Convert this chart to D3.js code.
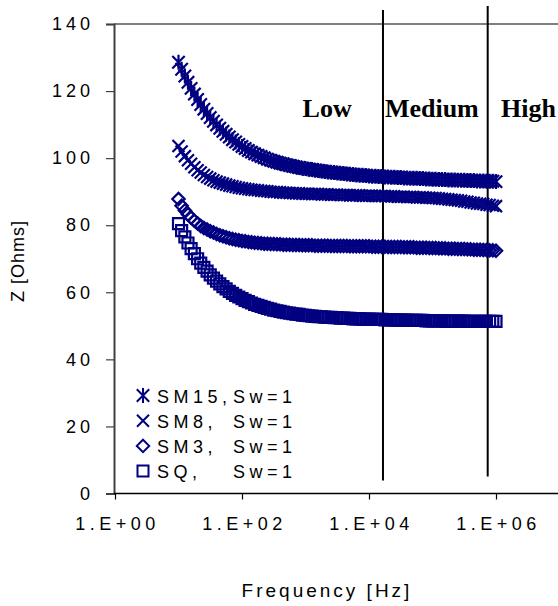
<!DOCTYPE html>
<html>
<head>
<meta charset="utf-8">
<script src="https://cdn.jsdelivr.net/npm/d3@7"></script>
<style>
body { margin: 0; background: #fff; }
svg { display: block; }
</style>
</head>
<body>
<div id="chart"></div>
<script>
// frequency points (Hz), 20 per decade
const freq = [
  10, 11.2, 12.6, 14.1, 15.8, 17.8, 20, 22.4, 25.1, 28.2, 31.6, 35.5, 39.8, 44.7, 50.1, 56.2, 63.1, 70.8, 79.4, 89.1,
  100, 112, 126, 141, 158, 178, 200, 224, 251, 282, 316, 355, 398, 447, 501, 562, 631, 708, 794, 891,
  1000, 1120, 1260, 1410, 1580, 1780, 2000, 2240, 2510, 2820, 3160, 3550, 3980, 4470, 5010, 5620, 6310, 7080, 7940, 8910,
  10000, 11200, 12600, 14100, 15800, 17800, 20000, 22400, 25100, 28200, 31600, 35500, 39800, 44700, 50100, 56200, 63100, 70800, 79400, 89100,
  100000, 112000, 126000, 141000, 158000, 178000, 200000, 224000, 251000, 282000, 316000, 355000, 398000, 447000, 501000, 562000, 631000, 708000, 794000, 891000,
  1000000
];

const sm15 = [
  128.6, 126.5, 124.5, 122.6, 120.8, 119.1, 117.5, 116.0, 114.6, 113.3, 112.1, 111.0, 109.9, 108.9, 108.0, 107.1, 106.3, 105.5, 104.8, 104.1,
  103.5, 102.9, 102.3, 101.8, 101.3, 100.9, 100.5, 100.1, 99.7, 99.4, 99.1, 98.8, 98.5, 98.3, 98.0, 97.8, 97.6, 97.4, 97.2, 97.0,
  96.9, 96.7, 96.6, 96.4, 96.3, 96.2, 96.0, 95.9, 95.8, 95.7, 95.6, 95.5, 95.4, 95.3, 95.2, 95.1, 95.0, 94.9, 94.9, 94.8,
  94.7, 94.6, 94.6, 94.5, 94.5, 94.4, 94.4, 94.3, 94.3, 94.2, 94.2, 94.1, 94.1, 94.0, 94.0, 94.0, 93.9, 93.9, 93.8, 93.8,
  93.7, 93.7, 93.6, 93.6, 93.6, 93.5, 93.5, 93.5, 93.4, 93.4, 93.4, 93.3, 93.3, 93.3, 93.2, 93.2, 93.2, 93.1, 93.1, 93.1,
  93.0
];

const sm8 = [
  103.6, 102.0, 100.6, 99.4, 98.3, 97.3, 96.4, 95.7, 95.0, 94.4, 93.9, 93.4, 93.0, 92.7, 92.4, 92.1, 91.8, 91.6, 91.4, 91.2,
  91.0, 90.9, 90.7, 90.6, 90.5, 90.4, 90.3, 90.2, 90.1, 90.0, 89.9, 89.9, 89.8, 89.7, 89.7, 89.6, 89.6, 89.5, 89.5, 89.4,
  89.4, 89.4, 89.3, 89.3, 89.3, 89.2, 89.2, 89.2, 89.1, 89.1, 89.1, 89.0, 89.0, 89.0, 88.9, 88.9, 88.9, 88.9, 88.8, 88.8,
  88.8, 88.8, 88.7, 88.7, 88.7, 88.7, 88.6, 88.6, 88.6, 88.5, 88.5, 88.5, 88.4, 88.4, 88.4, 88.3, 88.3, 88.3, 88.2, 88.2,
  88.1, 88.1, 88.0, 87.9, 87.8, 87.7, 87.6, 87.5, 87.4, 87.3, 87.1, 87.0, 86.8, 86.7, 86.5, 86.4, 86.3, 86.1, 86.0, 85.8,
  85.7
];

const sm3 = [
  87.8, 85.8, 84.4, 83.2, 82.2, 81.3, 80.5, 79.8, 79.2, 78.7, 78.2, 77.8, 77.4, 77.0, 76.7, 76.4, 76.1, 75.9, 75.7, 75.5,
  75.3, 75.2, 75.0, 74.9, 74.8, 74.7, 74.6, 74.5, 74.5, 74.4, 74.4, 74.3, 74.3, 74.2, 74.2, 74.2, 74.1, 74.1, 74.1, 74.0,
  74.0, 74.0, 74.0, 73.9, 73.9, 73.9, 73.9, 73.9, 73.8, 73.8, 73.8, 73.8, 73.8, 73.8, 73.7, 73.7, 73.7, 73.7, 73.7, 73.7,
  73.7, 73.6, 73.6, 73.6, 73.6, 73.6, 73.5, 73.5, 73.5, 73.5, 73.5, 73.4, 73.4, 73.4, 73.4, 73.3, 73.3, 73.3, 73.3, 73.2,
  73.2, 73.2, 73.1, 73.1, 73.1, 73.0, 73.0, 73.0, 72.9, 72.9, 72.9, 72.8, 72.8, 72.7, 72.7, 72.7, 72.6, 72.6, 72.5, 72.5,
  72.4
];

const sq = [
  80.5, 78.4, 76.5, 74.7, 73.0, 71.5, 70.0, 68.7, 67.4, 66.3, 65.2, 64.2, 63.3, 62.5, 61.7, 61.0, 60.3, 59.7, 59.1, 58.6,
  58.1, 57.6, 57.2, 56.8, 56.4, 56.1, 55.8, 55.5, 55.2, 55.0, 54.7, 54.5, 54.3, 54.1, 53.9, 53.8, 53.6, 53.5, 53.4, 53.2,
  53.1, 53.0, 52.9, 52.8, 52.7, 52.7, 52.6, 52.5, 52.5, 52.4, 52.4, 52.3, 52.3, 52.2, 52.2, 52.1, 52.1, 52.1, 52.0, 52.0,
  52.0, 51.9, 51.9, 51.9, 51.9, 51.8, 51.8, 51.8, 51.8, 51.7, 51.7, 51.7, 51.7, 51.6, 51.6, 51.6, 51.6, 51.6, 51.5, 51.5,
  51.5, 51.5, 51.5, 51.5, 51.4, 51.4, 51.4, 51.4, 51.4, 51.4, 51.4, 51.3, 51.3, 51.3, 51.3, 51.3, 51.3, 51.3, 51.3, 51.3,
  51.3
];

const seriesNames = ["SM15,", "SM8,", "SM3,", "SQ,"];
const swLabel = "Sw=1";
const yTicks = [0, 20, 40, 60, 80, 100, 120, 140];
const xTicks = [1, 1e2, 1e4, 1e6];
const xTickLabels = ["1.E+00", "1.E+02", "1.E+04", "1.E+06"];

// region boundaries and labels
const bandFreq = [1.66e4, 7.4e5];
const bandTop = [144.2, 145.4];
const bandBottom = [3.9, 5.1];
const regionNames = ["Low", "Medium", "High"];
const regionFreq = [900, 1.78e4, 1.2e6];
const regionZ = 112.3;

const svgWidth = 558;
const svgHeight = 606;
const margins = {top: 24, right: 0, bottom: 112.5, left: 114};
const navy = "#000080";

const svg = d3.select("#chart")
  .append("svg")
  .attr("width", svgWidth)
  .attr("height", svgHeight)
  .attr("viewBox", [0, 0, svgWidth, svgHeight]);

const xScale = d3.scaleLog()
  .domain([1, 1e7])
  .range([115, 559.5]);

const yScale = d3.scaleLinear()
  .domain([0, 140])
  .range([svgHeight - margins.bottom, margins.top]);

// marker shapes
const asterisk = {draw(ctx) {
  ctx.moveTo(-6.2, -6.2); ctx.lineTo(6.2, 6.2);
  ctx.moveTo(-6.2, 6.2); ctx.lineTo(6.2, -6.2);
  ctx.moveTo(0, -7.5); ctx.lineTo(0, 7.5);
}};
const times = {draw(ctx) {
  ctx.moveTo(-6, -6); ctx.lineTo(6, 6);
  ctx.moveTo(-6, 6); ctx.lineTo(6, -6);
}};
const diamond = {draw(ctx) {
  ctx.moveTo(0, -6.2); ctx.lineTo(6.2, 0); ctx.lineTo(0, 6.2); ctx.lineTo(-6.2, 0); ctx.closePath();
}};
const square = {draw(ctx) {
  ctx.rect(-5.5, -5.5, 11, 11);
}};

const series = [
  {name: seriesNames[0], values: sm15, shape: asterisk},
  {name: seriesNames[1], values: sm8, shape: times},
  {name: seriesNames[2], values: sm3, shape: diamond},
  {name: seriesNames[3], values: sq, shape: square}
];

function yAxis(g) {
  g.attr("transform", "translate(" + margins.left + ",0)")
    .call(d3.axisLeft(yScale).tickValues(yTicks).tickSize(8).tickPadding(16))
    .call(g => g.select(".domain").attr("stroke", "#404040").attr("stroke-width", 2))
    .call(g => g.selectAll(".tick line").attr("stroke", "#404040").attr("stroke-width", 1.2))
    .selectAll("text")
    .attr("font-family", "Liberation Sans, Arial, sans-serif")
    .attr("font-size", "18px")
    .attr("letter-spacing", "4px")
    .attr("dx", "4px")
    .attr("fill", "#000");
}

function xAxis(g) {
  g.attr("transform", "translate(0," + yScale(0) + ")")
    .call(d3.axisBottom(xScale).tickValues(xTicks).tickSize(6).tickPadding(18)
      .tickFormat((d, i) => xTickLabels[i]))
    .call(g => g.select(".domain").attr("d", "M" + margins.left + ",0H" + svgWidth).attr("stroke", "#000").attr("stroke-width", 1.5))
    .call(g => g.selectAll(".tick line").attr("stroke", "#000").attr("stroke-width", 1.2))
    .selectAll("text")
    .attr("font-family", "Liberation Sans, Arial, sans-serif")
    .attr("font-size", "18px")
    .attr("letter-spacing", "4.5px")
    .attr("dx", "2px")
    .attr("fill", "#000");
}

// top border of plot area
svg.append("line")
  .attr("x1", margins.left).attr("x2", svgWidth)
  .attr("y1", yScale(140)).attr("y2", yScale(140))
  .attr("stroke", "#808080").attr("stroke-width", 2);

svg.append("g").call(yAxis);
svg.append("g").call(xAxis);

// region boundary lines
svg.append("g")
  .selectAll("line")
  .data(bandFreq)
  .join("line")
    .attr("x1", d => xScale(d)).attr("x2", d => xScale(d))
    .attr("y1", (d, i) => yScale(bandTop[i]))
    .attr("y2", (d, i) => yScale(bandBottom[i]))
    .attr("stroke", "#000")
    .attr("stroke-width", 2);

svg.append("g")
  .selectAll("text")
  .data(regionNames)
  .join("text")
    .attr("x", (d, i) => xScale(regionFreq[i]))
    .attr("y", yScale(regionZ))
    .attr("font-family", "Liberation Serif, Times New Roman, serif")
    .attr("font-weight", "bold")
    .attr("font-size", "26px")
    .text(d => d);

// data markers
series.forEach(function (s) {
  svg.append("g")
    .attr("fill", "none")
    .attr("stroke", navy)
    .attr("stroke-width", 2.2)
    .selectAll("path")
    .data(s.values)
    .join("path")
      .attr("d", d3.symbol().type(s.shape))
      .attr("transform", (d, i) => "translate(" + xScale(freq[i]) + "," + yScale(d) + ")");
});

// legend
const legend = svg.append("g")
  .attr("font-family", "Liberation Sans, Arial, sans-serif")
  .attr("font-size", "18px")
  .attr("letter-spacing", "4.5px");

const legendRows = legend.selectAll("g")
  .data(series)
  .join("g")
    .attr("transform", (d, i) => "translate(143," + (395.5 + i * 25.2) + ")");

legendRows.append("path")
  .attr("d", d => d3.symbol().type(d.shape)())
  .attr("fill", "none")
  .attr("stroke", navy)
  .attr("stroke-width", 2);

legendRows.append("text")
  .attr("x", 14)
  .attr("y", 7)
  .text(d => d.name);

legendRows.append("text")
  .attr("x", 90)
  .attr("y", 7)
  .text(swLabel);

// axis titles
svg.append("text")
  .attr("x", 327)
  .attr("y", 597)
  .attr("text-anchor", "middle")
  .attr("font-family", "Liberation Sans, Arial, sans-serif")
  .attr("font-size", "19px")
  .attr("letter-spacing", "3px")
  .text("Frequency [Hz]");

svg.append("text")
  .attr("transform", "translate(24,261) rotate(-90)")
  .attr("text-anchor", "middle")
  .attr("font-family", "Liberation Sans, Arial, sans-serif")
  .attr("font-size", "18px")
  .attr("letter-spacing", "1px")
  .text("Z [Ohms]");
</script>
</body>
</html>
